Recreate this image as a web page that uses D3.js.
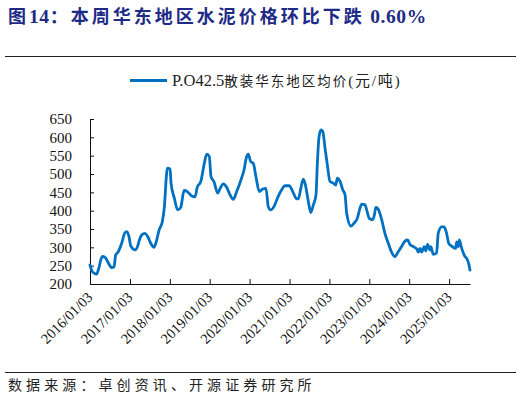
<!DOCTYPE html>
<html>
<head>
<meta charset="utf-8">
<script src="https://cdn.jsdelivr.net/npm/d3@7"></script>
<style>
  body { margin: 0; background: #fff; }
  svg { display: block; }
</style>
</head>
<body>
<div id="chart"></div>
<script>
// title pieces: [text, isLatin]
const titleParts = [
  ["图", false],
  ["14", true],
  ["：本周华东地区水泥价格环比下跌", false],
  [" 0.60%", true]
];
const legendParts = [
  ["P.O42.5", true],
  ["散装华东地区均价", false],
  ["(元/吨)", true]
];
const sourceText = "数据来源：卓创资讯、开源证券研究所";

const dates = [
  "2016-01-03", "2016-01-24", "2016-03-04", "2016-03-19", "2016-04-24", "2016-05-19",
  "2016-06-18", "2016-07-19", "2016-08-10", "2016-08-25", "2016-09-18", "2016-10-19",
  "2016-11-18", "2016-12-06", "2016-12-25", "2017-01-10", "2017-02-19", "2017-03-15",
  "2017-03-30", "2017-04-21", "2017-05-21", "2017-06-15", "2017-07-12", "2017-08-11",
  "2017-09-05", "2017-09-26", "2017-10-26", "2017-11-14", "2017-12-02", "2017-12-11",
  "2018-01-05", "2018-01-14", "2018-02-13", "2018-03-16", "2018-04-13", "2018-05-13",
  "2018-06-12", "2018-07-22", "2018-08-22", "2018-09-11", "2018-10-13", "2018-11-12",
  "2018-12-07", "2018-12-30", "2019-01-15", "2019-02-11", "2019-03-17", "2019-04-14",
  "2019-05-07", "2019-06-07", "2019-07-08", "2019-08-07", "2019-09-07", "2019-10-14",
  "2019-11-13", "2019-12-07", "2019-12-22", "2020-01-13", "2020-02-06", "2020-03-01",
  "2020-04-01", "2020-05-02", "2020-06-01", "2020-06-22", "2020-07-14", "2020-08-13",
  "2020-09-21", "2020-10-23", "2020-11-22", "2020-12-31", "2021-02-01", "2021-03-03",
  "2021-03-25", "2021-04-16", "2021-05-09", "2021-05-28", "2021-06-24", "2021-07-16",
  "2021-08-09", "2021-09-02", "2021-09-14", "2021-09-30", "2021-10-18", "2021-11-03",
  "2021-11-24", "2021-12-15", "2022-01-08", "2022-02-08", "2022-03-02", "2022-03-16",
  "2022-04-10", "2022-05-05", "2022-05-26", "2022-06-10", "2022-07-19", "2022-08-19",
  "2022-09-15", "2022-10-10", "2022-10-26", "2022-11-25", "2022-12-10", "2023-01-03",
  "2023-02-03", "2023-02-18", "2023-03-05", "2023-03-26", "2023-04-27", "2023-05-26",
  "2023-06-26", "2023-07-27", "2023-08-26", "2023-09-25", "2023-10-26", "2023-11-26",
  "2023-12-20", "2024-01-10", "2024-02-10", "2024-03-12", "2024-03-26", "2024-04-11",
  "2024-04-26", "2024-05-20", "2024-06-02", "2024-06-20", "2024-07-11", "2024-07-20",
  "2024-08-10", "2024-09-10", "2024-09-25", "2024-10-26", "2024-11-19", "2024-12-11",
  "2024-12-30", "2025-02-01", "2025-03-04", "2025-03-13", "2025-03-28", "2025-04-06",
  "2025-04-28", "2025-05-28", "2025-06-13", "2025-07-04", "2025-07-13"
];

const prices = [
  252, 234, 227, 238, 275, 273,
  258, 245, 247, 279, 288, 311,
  340, 343, 329, 304, 293, 304,
  320, 334, 338, 329, 311, 300,
  320, 347, 370, 411, 493, 516,
  514, 475, 434, 402, 409, 455,
  452, 440, 438, 464, 479, 525,
  554, 548, 493, 479, 448, 464,
  473, 464, 443, 431, 452, 482,
  511, 548, 554, 534, 529, 493,
  452, 459, 461, 411, 402, 411,
  439, 457, 468, 468, 452, 434,
  432, 461, 486, 470, 425, 395,
  416, 443, 525, 602, 620, 616,
  570, 525, 480, 475, 470, 489,
  480, 457, 443, 393, 358, 367,
  379, 407, 418, 416, 402, 379,
  375, 388, 409, 404, 375, 338,
  311, 286, 275, 288, 302, 317,
  320, 308, 302, 296, 287, 297,
  287, 302, 290, 308, 293, 302,
  281, 284, 338, 356, 356, 338,
  311, 302, 297, 315, 302, 320,
  297, 275, 270, 252, 238
];

const yTicks = [200, 250, 300, 350, 400, 450, 500, 550, 600, 650];
const xTickLabels = [
  "2016/01/03", "2017/01/03", "2018/01/03", "2019/01/03", "2020/01/03",
  "2021/01/03", "2022/01/03", "2023/01/03", "2024/01/03", "2025/01/03"
];

const width = 522;
const height = 399;
const lineColor = "#0070c0";
const serif = "'Times New Roman', 'Liberation Serif', 'Noto Sans CJK SC', serif";
const cjk = "'Noto Sans CJK SC', 'Noto Sans CJK JP', sans-serif";
const parse = d3.timeParse("%Y-%m-%d");
const parseTick = d3.timeParse("%Y/%m/%d");

const data = dates.map((d, i) => ({ date: parse(d), value: prices[i] }));

const svg = d3
  .select("#chart")
  .append("svg")
  .attr("width", width)
  .attr("height", height);

// title
const title = svg
  .append("text")
  .attr("x", 8)
  .attr("y", 23)
  .attr("fill", "#1d2a86")
  .style("font-weight", "bold");

title
  .selectAll("tspan")
  .data(titleParts)
  .join("tspan")
  .style("font-family", (d) => (d[1] ? serif : cjk))
  .style("font-size", (d) => (d[1] ? "19.5px" : "18px"))
  .style("letter-spacing", (d) => (d[1] ? "0.6px" : "3px"))
  .text((d) => d[0]);

svg
  .append("line")
  .attr("x1", 5)
  .attr("x2", 516)
  .attr("y1", 56.5)
  .attr("y2", 56.5)
  .attr("stroke", "#222")
  .attr("stroke-width", 1.2);

// legend
svg
  .append("line")
  .attr("x1", 130)
  .attr("x2", 167)
  .attr("y1", 80.5)
  .attr("y2", 80.5)
  .attr("stroke", lineColor)
  .attr("stroke-width", 3);

const legend = svg
  .append("text")
  .attr("x", 172)
  .attr("y", 86)
  .attr("fill", "#222");

legend
  .selectAll("tspan")
  .data(legendParts)
  .join("tspan")
  .style("font-family", (d, i) => (i === 1 ? cjk : serif))
  .style("font-size", (d, i) => (i === 0 ? "16.5px" : i === 1 ? "13.5px" : "15px"))
  .style("letter-spacing", (d, i) => (i === 0 ? "0px" : i === 1 ? "2px" : "1.8px"))
  .text((d) => d[0]);

const x = d3
  .scaleTime()
  .domain([parse("2016-01-03"), parse("2025-07-13")])
  .range([90, 470]);

const y = d3.scaleLinear().domain([200, 650]).range([284, 119]);

const xAxis = svg
  .append("g")
  .attr("transform", "translate(0,284)")
  .call(
    d3
      .axisBottom(x)
      .tickValues(xTickLabels.map((t) => parseTick(t)))
      .tickSizeInner(-5)
      .tickSizeOuter(0)
      .tickFormat(d3.timeFormat("%Y/%m/%d"))
  );

xAxis
  .selectAll("text")
  .attr("x", 0)
  .attr("y", 0)
  .attr("dy", 0)
  .attr("text-anchor", "end")
  .attr("transform", "translate(3,14) rotate(-45)")
  .style("font-family", serif)
  .style("font-size", "14.5px")
  .attr("fill", "#111");

const yAxis = svg
  .append("g")
  .attr("transform", "translate(90,0)")
  .call(
    d3
      .axisLeft(y)
      .tickValues(yTicks)
      .tickSizeInner(-4)
      .tickSizeOuter(0)
      .tickPadding(18)
  );

yAxis
  .selectAll("text")
  .style("font-family", serif)
  .style("font-size", "15px")
  .attr("fill", "#111");

svg.selectAll(".domain, .tick line").attr("stroke", "#111");

const line = d3
  .line()
  .x((d) => x(d.date))
  .y((d) => y(d.value))
  .curve(d3.curveMonotoneX);

svg
  .append("path")
  .datum(data)
  .attr("d", line)
  .attr("fill", "none")
  .attr("stroke", lineColor)
  .attr("stroke-width", 2.8)
  .attr("stroke-linejoin", "round")
  .attr("stroke-linecap", "round");

// source
svg
  .append("line")
  .attr("x1", 5)
  .attr("x2", 516)
  .attr("y1", 372.5)
  .attr("y2", 372.5)
  .attr("stroke", "#222")
  .attr("stroke-width", 1.2);

svg
  .append("text")
  .attr("x", 8)
  .attr("y", 390)
  .attr("fill", "#222")
  .style("font-family", cjk)
  .style("font-size", "14px")
  .style("letter-spacing", "4.1px")
  .text(sourceText);
</script>
</body>
</html>
